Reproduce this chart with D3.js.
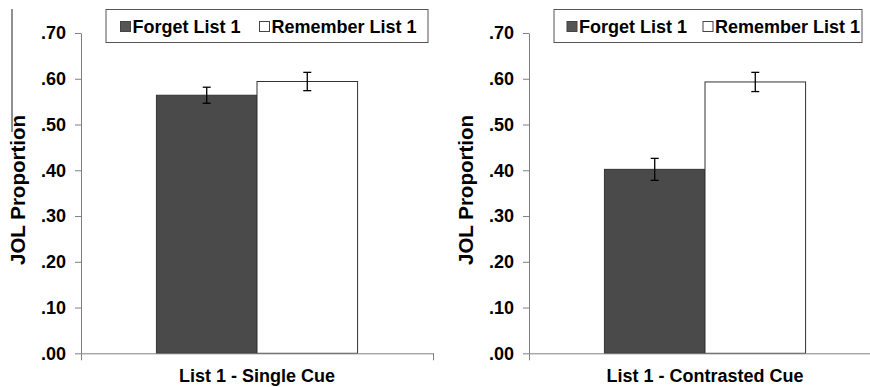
<!DOCTYPE html>
<html>
<head>
<meta charset="utf-8">
<script src="https://cdn.jsdelivr.net/npm/d3@7"></script>
<style>
  html, body { margin: 0; padding: 0; background: #fff; }
  svg { display: block; }
  text { font-family: "Liberation Sans", Arial, sans-serif; font-weight: bold; fill: #000; }
</style>
</head>
<body>
<svg id="chart" width="870" height="387"></svg>
<script>
// ---- data ----
const series = ["Forget List 1", "Remember List 1"];
const panels = ["List 1 - Single Cue", "List 1 - Contrasted Cue"];
const singleCueMeans = [0.564, 0.594];
const singleCueErrors = [0.0175, 0.020];
const contrastedCueMeans = [0.402, 0.593];
const contrastedCueErrors = [0.024, 0.021];
const yTicks = [0, 0.1, 0.2, 0.3, 0.4, 0.5, 0.6, 0.7];
const yTitle = "JOL Proportion";

const panelData = [
  { label: panels[0], means: singleCueMeans, errs: singleCueErrors },
  { label: panels[1], means: contrastedCueMeans, errs: contrastedCueErrors }
];

// ---- layout ----
const svg = d3.select("#chart");
const colors = { fill: ["#4a4a4a", "#ffffff"], stroke: "#333333" };
const axisColor = "#808080";
const layouts = [
  { x0: 81, x1: 433, legendX: 106, legendW: 322, titleX: 18, itemOff: 14.5, itemGap: 139 },
  { x0: 529, x1: 881, legendX: 554, legendW: 308, titleX: 466, itemOff: 13, itemGap: 136 }
];
const yTop = 33, yBottom = 353.3;

const y = d3.scaleLinear().domain([0, 0.7]).range([yBottom, yTop]);
const fmt = d => d === 0 ? ".00" : d3.format(".2f")(d).replace(/^0/, "");

// stray crop line at left edge of the original
svg.append("line").attr("x1", 12).attr("x2", 12).attr("y1", 9).attr("y2", 132)
  .attr("stroke", "#222").attr("stroke-width", 1);

panelData.forEach((p, i) => {
  const L = layouts[i];
  const g = svg.append("g");

  const xb = d3.scaleBand().domain(series).range([L.x0, L.x1])
    .paddingInner(0).paddingOuter(0.75);

  // bars
  g.selectAll("rect.bar").data(series).enter().append("rect")
    .attr("class", "bar")
    .attr("x", s => xb(s))
    .attr("width", xb.bandwidth())
    .attr("y", (s, j) => y(p.means[j]))
    .attr("height", (s, j) => y(0) - y(p.means[j]))
    .attr("fill", (s, j) => colors.fill[j])
    .attr("stroke", colors.stroke)
    .attr("stroke-width", 1);

  // error bars
  const cap = 4;
  series.forEach((s, j) => {
    const cx = xb(s) + xb.bandwidth() / 2;
    const hi = y(p.means[j] + p.errs[j]);
    const lo = y(p.means[j] - p.errs[j]);
    g.append("line").attr("x1", cx).attr("x2", cx).attr("y1", hi).attr("y2", lo)
      .attr("stroke", "#000").attr("stroke-width", 1.3);
    [hi, lo].forEach(v => g.append("line").attr("x1", cx - cap).attr("x2", cx + cap)
      .attr("y1", v).attr("y2", v).attr("stroke", "#000").attr("stroke-width", 1.3));
  });

  // y axis
  const ya = g.append("g").attr("transform", `translate(${L.x0},0)`)
    .call(d3.axisLeft(y).tickValues(yTicks).tickFormat(fmt).tickSize(6).tickSizeOuter(0).tickPadding(9));
  ya.select(".domain").attr("stroke", axisColor);
  ya.selectAll(".tick line").attr("stroke", axisColor);
  ya.selectAll(".tick text").attr("font-size", 18).attr("font-family", "Liberation Sans, Arial, sans-serif")
    .attr("font-weight", "bold").attr("fill", "#000");

  // x axis (category boundaries)
  const xl = d3.scaleLinear().domain([0, 1]).range([L.x0, L.x1]);
  const xa = g.append("g").attr("transform", `translate(0,${yBottom})`)
    .call(d3.axisBottom(xl).tickValues([0, 1]).tickFormat("").tickSize(7).tickSizeOuter(0));
  xa.select(".domain").attr("stroke", axisColor);
  xa.selectAll(".tick line").attr("stroke", axisColor);

  // category label
  g.append("text").attr("x", (L.x0 + L.x1) / 2).attr("y", 382)
    .attr("text-anchor", "middle").attr("font-size", 18).text(p.label);

  // y title
  g.append("text").attr("transform", `translate(${L.titleX + 7},190) rotate(-90)`)
    .attr("text-anchor", "middle").attr("font-size", 20.5).text(yTitle);

  // legend
  const lg = g.append("g");
  lg.append("rect").attr("x", L.legendX).attr("y", 9.5).attr("width", L.legendW).attr("height", 33)
    .attr("fill", "#fff").attr("stroke", "#555").attr("stroke-width", 1);
  const itemX = [L.legendX + L.itemOff, L.legendX + L.itemOff + L.itemGap];
  series.forEach((s, j) => {
    lg.append("rect").attr("x", itemX[j]).attr("y", 21.5).attr("width", 10).attr("height", 10)
      .attr("fill", colors.fill[j] === "#ffffff" ? "#fff" : "#555").attr("stroke", "#444").attr("stroke-width", 1);
    lg.append("text").attr("x", itemX[j] + 12).attr("y", 33).attr("font-size", 18).text(s);
  });
});
</script>
</body>
</html>
